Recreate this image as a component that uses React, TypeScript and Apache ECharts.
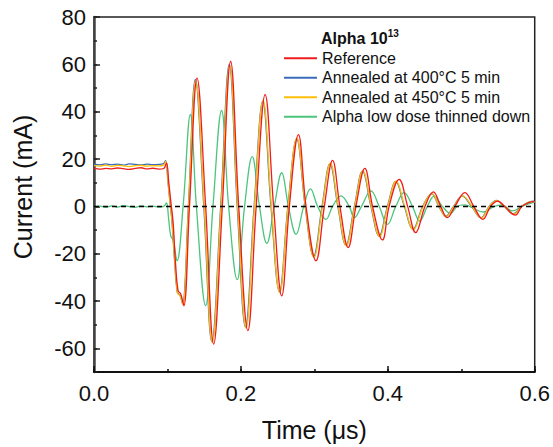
import React, { useEffect, useRef } from "react";
import * as echarts from "echarts";

const FONT = "Liberation Sans, Arial, sans-serif";

const seriesNames = [
  "Reference",
  "Annealed at 400°C 5 min",
  "Annealed at 450°C 5 min",
  "Alpha low dose thinned down",
];

const xMajorTicks = [0, 0.2, 0.4, 0.6];
const yMajorTicks = [-60, -40, -20, 0, 20, 40, 60, 80];

const refTime = [0, 0.008, 0.016, 0.024, 0.032, 0.04, 0.048, 0.056, 0.064, 0.072, 0.08, 0.088, 0.095,
  0.0987, 0.1018, 0.1045, 0.1077, 0.1109, 0.1145, 0.1181, 0.1222, 0.13, 0.1403, 0.152, 0.1629, 0.1747,
  0.186, 0.197, 0.2095, 0.2208, 0.233, 0.2445, 0.2556, 0.266, 0.2783, 0.2887, 0.3022, 0.3136, 0.3248,
  0.3348, 0.346, 0.3566, 0.3688, 0.3792, 0.3927, 0.4018, 0.4154, 0.427, 0.438, 0.4507, 0.462, 0.472,
  0.481, 0.4914, 0.505, 0.517, 0.5294, 0.54, 0.5498, 0.559, 0.5738, 0.5828, 0.5987, 0.6];
const refCurrent = [16.1, 15.7, 16.0, 15.8, 16.2, 15.9, 15.6, 16.0, 16.3, 15.8, 16.1, 15.7, 16.0,
  18.4, 10, 2.2, -6.9, -23.6, -35.7, -37, -42, 0, 54.2, 0, -58.2, 0,
  61.2, 0, -52.5, 0, 47.2, 0, -37.8, 0, 30.3, 0, -23, 0, 19.4,
  0, -17.4, 0, 16, 0, -14.2, 0, 11.4, 0, -11.1, 0, 6.1, 0,
  -4.8, 0, 5.8, 0, -5.5, 0, 2.2, 0, -3.7, 0, 2, 1.8];

const a400Time = [0, 0.008, 0.016, 0.024, 0.032, 0.04, 0.048, 0.056, 0.064, 0.072, 0.08, 0.088, 0.094,
  0.0975, 0.1005, 0.103, 0.106, 0.1095, 0.1135, 0.117, 0.1205, 0.1285, 0.138, 0.1495, 0.1605, 0.1725,
  0.1842, 0.195, 0.2063, 0.218, 0.2298, 0.241, 0.2525, 0.264, 0.276, 0.2875, 0.299, 0.3105, 0.3213,
  0.332, 0.343, 0.3545, 0.3656, 0.377, 0.3882, 0.3995, 0.411, 0.4225, 0.4344, 0.4475, 0.4597, 0.4695,
  0.479, 0.4895, 0.5013, 0.514, 0.527, 0.538, 0.548, 0.558, 0.571, 0.582, 0.598, 0.6];
const a400Current = [17.8, 17.5, 17.9, 17.6, 17.8, 17.4, 17.9, 17.7, 17.5, 17.8, 17.6, 17.7, 17.9,
  19.3, 11, 3, -6, -22, -36.5, -37.5, -41, 0, 53.5, 0, -57.2, 0,
  60, 0, -51, 0, 44.4, 0, -36, 0, 28.5, 0, -21, 0, 18,
  0, -16.4, 0, 14.9, 0, -12.5, 0, 10.5, 0, -9.7, 0, 5.3, 0,
  -4.2, 0, 4.3, 0, -4.8, 0, 2.5, 0, -3.2, 0, 2.2, 2];

const a450Time = [0, 0.008, 0.016, 0.024, 0.032, 0.04, 0.048, 0.056, 0.064, 0.072, 0.08, 0.088, 0.094,
  0.0978, 0.1008, 0.1033, 0.1063, 0.1098, 0.1138, 0.1173, 0.1208, 0.1288, 0.1385, 0.15, 0.161, 0.173,
  0.1848, 0.1955, 0.207, 0.2185, 0.2302, 0.2415, 0.2528, 0.2643, 0.2762, 0.2878, 0.2995, 0.311, 0.3218,
  0.3325, 0.3435, 0.355, 0.366, 0.3775, 0.3888, 0.4, 0.4115, 0.423, 0.4348, 0.448, 0.46, 0.47,
  0.4795, 0.49, 0.502, 0.5145, 0.5275, 0.5385, 0.5485, 0.5585, 0.5715, 0.5825, 0.598, 0.6];
const a450Current = [17.2, 17.0, 17.4, 16.9, 17.3, 17.1, 16.8, 17.2, 17.3, 17.0, 17.2, 17.1, 17.3,
  19.0, 10.5, 2.6, -6.3, -22.5, -36.8, -37.8, -41.5, 0, 53, 0, -57.5, 0,
  59.5, 0, -51.5, 0, 44.8, 0, -36.5, 0, 28.8, 0, -21.5, 0, 18.2,
  0, -16.6, 0, 15, 0, -12.8, 0, 10.6, 0, -9.9, 0, 5.4, 0,
  -4.3, 0, 4.4, 0, -4.9, 0, 2.4, 0, -3.3, 0, 2.1, 1.9];

const lowTime = [0, 0.008, 0.016, 0.024, 0.032, 0.04, 0.048, 0.056, 0.064, 0.072, 0.08, 0.088, 0.095,
  0.0987, 0.1015, 0.1045, 0.108, 0.113, 0.1213, 0.1312, 0.1394, 0.152, 0.162, 0.1737, 0.1833, 0.195,
  0.205, 0.2154, 0.2253, 0.2353, 0.2455, 0.2556, 0.2647, 0.2751, 0.2855, 0.2946, 0.3045, 0.3158, 0.3248,
  0.3362, 0.3475, 0.3543, 0.3642, 0.377, 0.3882, 0.3995, 0.4109, 0.4222, 0.4335, 0.4435, 0.4538, 0.4629,
  0.4742, 0.4855, 0.4945, 0.505, 0.515, 0.53, 0.545, 0.556, 0.569, 0.585, 0.6];
const lowCurrent = [-0.2, 0.1, -0.4, 0.2, -0.3, 0.3, -0.1, -0.4, 0.2, -0.2, 0.1, -0.3, 0.0,
  1.4, -5, -12.5, -14.5, -23, 0, 38.8, 0, -42, 0, 40.5, 0, -31,
  0, 21, 0, -15.6, 0, 14.2, 0, -11.8, 0, 7.4, 0, -5.5, 0,
  4.4, 0, -4.8, 0, 6.5, 0, -7.6, 0, 5.8, 0, -6.2, 0, 4.2,
  0, -3, 0, 0.6, -0.6, -2.4, 0, 0.5, -1.9, 0.3, 1.8];

const zip = (t: number[], v: number[]) => {
  const n = Math.min(t.length, v.length);
  const out: number[][] = [];
  for (let i = 0; i < n; i++) out.push([t[i], v[i]]);
  return out;
};

const colors = {
  ref: "#ee1c1c",
  a400: "#3b6cb7",
  a450: "#fbbf0a",
  low: "#4cc47c",
};

export default function App() {
  const ref = useRef<HTMLDivElement>(null);
  useEffect(() => {
    document.body.style.margin = "0";
    if (!ref.current) return;
    const chart = echarts.init(ref.current, undefined, { renderer: "svg" });
    const lineSeries = (name: string, data: number[][], color: string, extra: any = {}) => ({
      name,
      type: "line",
      data,
      smooth: 0.4,
      symbol: "none",
      showSymbol: false,
      lineStyle: { color, width: 1.3 },
      itemStyle: { color },
      ...extra,
    });
    chart.setOption({
      animation: false,
      textStyle: { fontFamily: FONT },
      grid: {
        left: 94,
        right: 17,
        top: 17,
        bottom: 74,
        show: true,
        borderColor: "#222",
        borderWidth: 1.5,
        backgroundColor: "transparent",
      },
      legend: {
        data: seriesNames,
        orient: "vertical",
        left: 283,
        top: 48.5,
        padding: 0,
        itemGap: 0,
        itemWidth: 33,
        itemHeight: 2,
        selectedMode: false,
        itemStyle: { opacity: 0 },
        textStyle: { fontSize: 16, lineHeight: 19.5, fontFamily: FONT, color: "#111" },
      },
      graphic: [
        {
          type: "text",
          x: 321,
          y: 38.3,
          style: {
            text: "{a|Alpha 10}{s|13}",
            verticalAlign: "middle",
            rich: {
              a: { fontSize: 16, fontWeight: "bold", fontFamily: FONT, fill: "#111", lineHeight: 20 },
              s: { fontSize: 10, fontWeight: "bold", fontFamily: FONT, fill: "#111", lineHeight: 11, verticalAlign: "top" },
            },
          },
        },
      ],
      xAxis: [
        {
          type: "value",
          min: 0,
          max: 0.6,
          position: "bottom",
          axisLine: { show: true, onZero: false, lineStyle: { color: "#111", width: 2 } },
          axisTick: { show: true, inside: true, length: 6, customValues: xMajorTicks, lineStyle: { color: "#111", width: 1.5 } },
          axisLabel: {
            customValues: xMajorTicks,
            formatter: (v: number) => v.toFixed(1),
            fontSize: 22,
            color: "#111",
            fontFamily: FONT,
            margin: 10,
          },
          splitLine: { show: false },
          name: "Time (μs)",
          nameLocation: "middle",
          nameGap: 45,
          nameTextStyle: { fontSize: 25, color: "#111", fontFamily: FONT },
        },
        {
          type: "value",
          min: 0,
          max: 0.6,
          interval: 0.1,
          position: "bottom",
          axisLine: { show: false, onZero: false },
          axisTick: { show: true, inside: true, length: 3, lineStyle: { color: "#111", width: 1.5 } },
          axisLabel: { show: false },
          splitLine: { show: false },
        },
      ],
      yAxis: [
        {
          type: "value",
          min: -70,
          max: 80,
          position: "left",
          axisLine: { show: true, onZero: false, lineStyle: { color: "#444", width: 2.5 } },
          axisTick: { show: true, inside: true, length: 6, customValues: yMajorTicks, lineStyle: { color: "#222", width: 1.5 } },
          axisLabel: {
            customValues: yMajorTicks,
            fontSize: 22,
            color: "#111",
            fontFamily: FONT,
            margin: 8,
          },
          splitLine: { show: false },
          name: "Current (mA)",
          nameLocation: "middle",
          nameGap: 59,
          nameTextStyle: { fontSize: 25, color: "#111", fontFamily: FONT, padding: [0, 0, 0, 15] },
        },
        {
          type: "value",
          min: -70,
          max: 80,
          interval: 10,
          position: "left",
          axisLine: { show: false, onZero: false },
          axisTick: { show: true, inside: true, length: 3, lineStyle: { color: "#222", width: 1.5 } },
          axisLabel: { show: false },
          splitLine: { show: false },
        },
      ],
      series: [
        lineSeries(seriesNames[3], zip(lowTime, lowCurrent), colors.low),
        lineSeries(seriesNames[1], zip(a400Time, a400Current), colors.a400),
        lineSeries(seriesNames[2], zip(a450Time, a450Current), colors.a450),
        lineSeries(seriesNames[0], zip(refTime, refCurrent), colors.ref, {
          markLine: {
            silent: true,
            symbol: "none",
            label: { show: false },
            lineStyle: { color: "#000", type: [5, 4], width: 1.3 },
            data: [{ yAxis: 0 }],
          },
        }),
      ],
    });
    return () => chart.dispose();
  }, []);
  return <div ref={ref} style={{ width: 553, height: 447 }} />;
}
